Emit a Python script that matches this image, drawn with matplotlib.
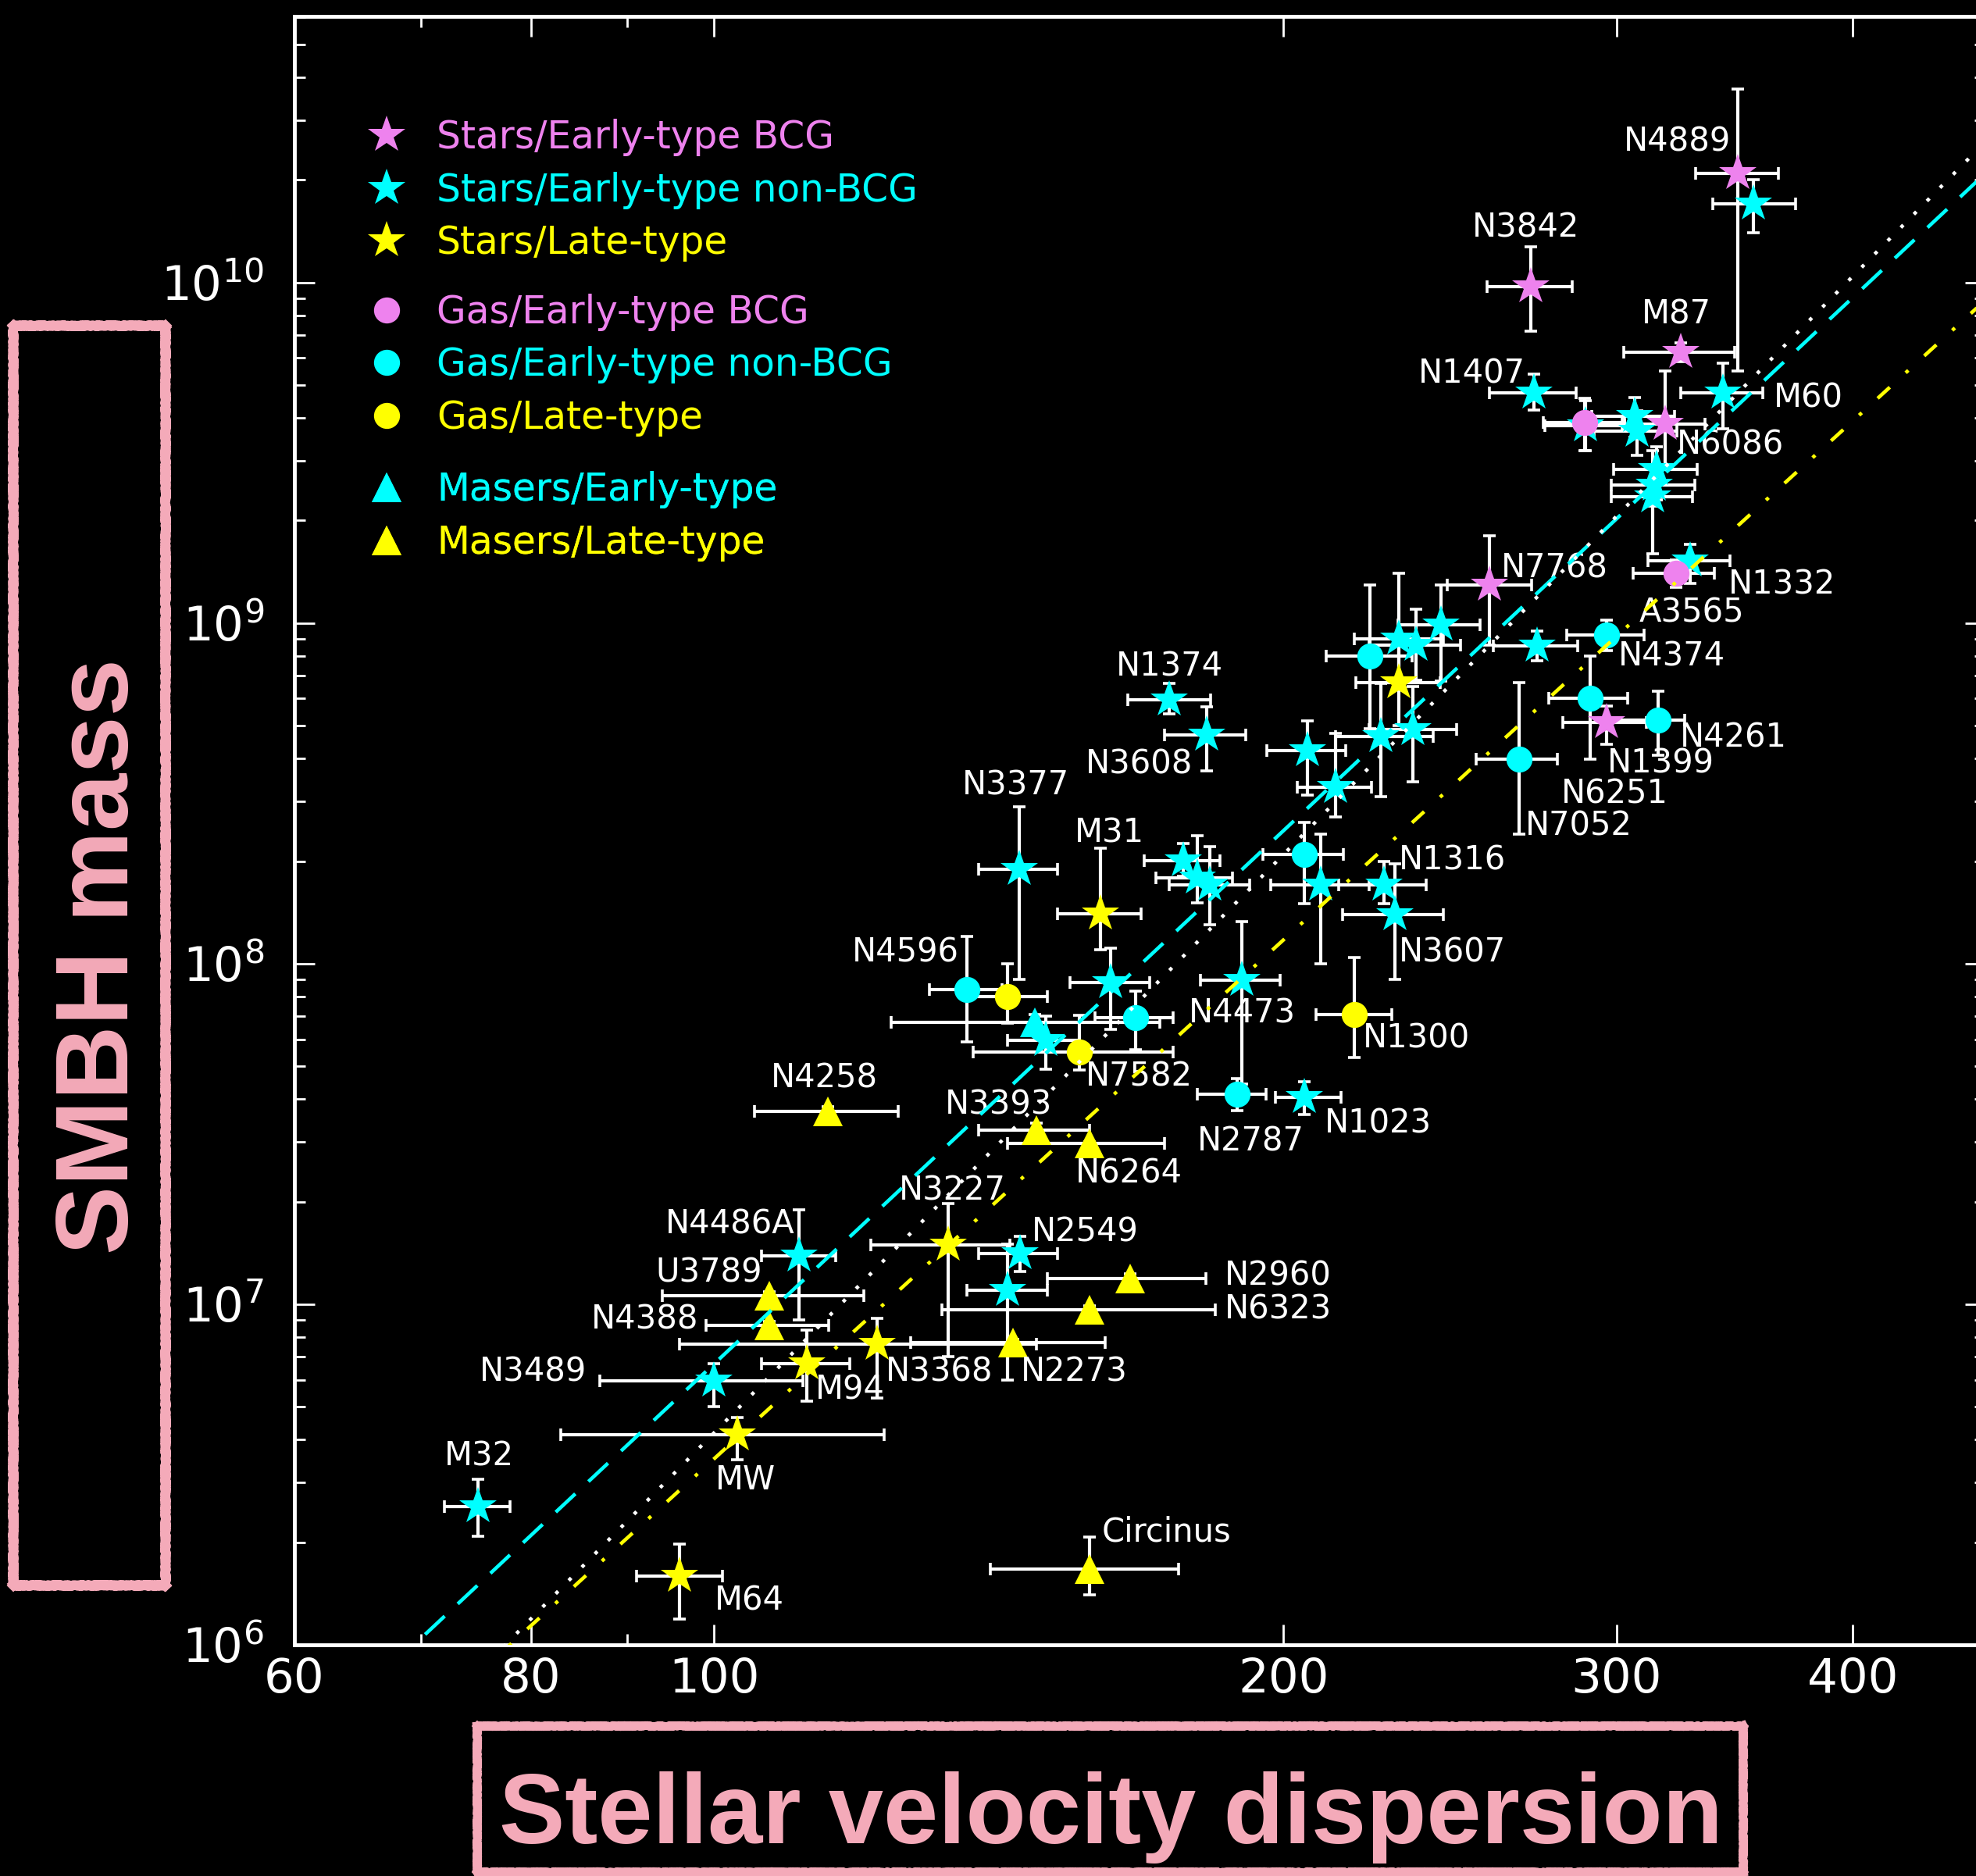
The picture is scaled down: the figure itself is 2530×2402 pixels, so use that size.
import numpy as np
import matplotlib
matplotlib.use("Agg")
import matplotlib.pyplot as plt
from matplotlib.lines import Line2D
from matplotlib.ticker import (FixedLocator, FixedFormatter, NullFormatter,
                               LogLocator, LogFormatterMathtext)

# ---------------- data (sigma in km/s, mass in Msun) ----------------
# Stars / Early-type BCG
seb_sig = [347.6, 270.3, 324.4, 318.2, 256.9, 296.4]
seb_slo = [330.3, 256.2, 302.6, 302.0, 244.2, 281.0]
seb_shi = [365.2, 284.2, 346.4, 334.0, 270.6, 311.0]
seb_m   = [2.09e10, 9.7e9, 6.25e9, 3.83e9, 1.29e9, 5.1e8]
seb_mlo = [5.5e9, 7.2e9, 5.85e9, 2.9e9, 8.6e8, 4.4e8]
seb_mhi = [3.7e10, 1.27e10, 6.65e9, 5.5e9, 1.8e9, 5.7e8]

# Stars / Early-type non-BCG
sen_sig = [354.5, 271.2, 341.5, 288.9, 306.6, 307.5, 315.1, 314.2, 313.5, 328.0,
           272.3, 230.2, 242.2, 234.9, 225.1, 234.2, 206.0, 213.0, 174.1, 182.2,
           145.0, 177.1, 180.0, 182.8, 209.3, 226.1, 229.1, 190.1, 162.0, 149.8,
           205.1, 145.1, 143.0, 110.9, 100.0, 75.0]
sen_slo = [337.3, 257.1, 324.5, 275.0, 291.0, 292.0, 299.0, 298.0, 298.0, 311.6,
           258.3, 218.0, 230.0, 222.0, 213.0, 222.0, 196.0, 203.3, 165.4, 173.0,
           138.0, 168.8, 171.2, 174.1, 197.0, 214.0, 215.0, 180.8, 154.3, 143.0,
           198.0, 138.0, 136.0, 105.9, 87.0, 72.0]
sen_shi = [372.9, 285.5, 358.5, 303.0, 322.0, 323.0, 331.0, 330.0, 329.0, 344.5,
           286.1, 243.0, 254.1, 248.0, 240.0, 247.0, 215.8, 222.7, 183.1, 191.1,
           151.9, 185.1, 187.9, 192.0, 222.0, 238.0, 243.0, 199.1, 170.0, 156.0,
           214.6, 151.9, 150.0, 116.0, 111.4, 78.0]
sen_m   = [1.70e10, 4.74e9, 4.74e9, 3.79e9, 4.04e9, 3.65e9, 2.82e9, 2.54e9, 2.35e9, 1.52e9,
           8.56e8, 8.98e8, 9.86e8, 8.62e8, 4.64e8, 4.88e8, 4.22e8, 3.29e8, 5.95e8, 4.69e8,
           1.89e8, 2.01e8, 1.79e8, 1.70e8, 1.70e8, 1.70e8, 1.39e8, 8.95e7, 8.80e7, 5.97e7,
           4.05e7, 1.41e7, 1.10e7, 1.39e7, 5.95e6, 2.55e6]
sen_mlo = [1.40e10, 4.21e9, 3.72e9, 3.2e9, 3.5e9, 3.1e9, 2.3e9, 2.2e9, 1.6e9, 1.31e9,
           7.73e8, 6.5e8, 6.76e8, 6.8e8, 3.1e8, 3.42e8, 3.13e8, 2.70e8, 5.41e8, 3.68e8,
           9.0e7, 1.8e8, 1.51e8, 1.30e8, 1.0e8, 1.5e8, 9.0e7, 4.44e7, 6.4e7, 4.9e7,
           3.6e7, 1.25e7, 6.0e6, 9.0e6, 5.0e6, 2.08e6]
sen_mhi = [2.0e10, 5.39e9, 5.79e9, 4.5e9, 4.6e9, 4.2e9, 3.3e9, 2.9e9, 3.2e9, 1.70e9,
           9.46e8, 1.40e9, 1.29e9, 1.1e9, 6.66e8, 6.5e8, 5.16e8, 4.75e8, 6.65e8, 5.67e8,
           2.89e8, 2.25e8, 2.37e8, 2.2e8, 2.4e8, 2.0e8, 1.96e8, 1.33e8, 1.11e8, 7.0e7,
           4.5e7, 1.58e7, 1.5e7, 1.89e7, 6.7e6, 3.06e6]

# Stars / Late-type
sl_sig = [230.2, 160.1, 133.0, 121.9, 111.9, 102.9, 95.9]
sl_slo = [218.4, 151.9, 121.0, 95.9, 105.9, 83.0, 91.0]
sl_shi = [242.0, 168.1, 143.3, 148.1, 118.0, 123.0, 101.0]
sl_m   = [6.7e8, 1.40e8, 1.49e7, 7.62e6, 6.70e6, 4.13e6, 1.59e6]
sl_mlo = [5.0e8, 1.10e8, 7.0e6, 5.3e6, 5.2e6, 3.5e6, 1.19e6]
sl_mhi = [9.0e8, 2.18e8, 1.98e7, 9.1e6, 8.4e6, 4.65e6, 1.98e6]

# Gas / Early-type BCG
geb_sig = [288.6, 322.4]
geb_slo = [274.4, 306.2]
geb_shi = [303.0, 338.0]
geb_m   = [3.88e9, 1.40e9]
geb_mlo = [3.21e9, 1.27e9]
geb_mhi = [4.57e9, 1.53e9]

# Gas / Early-type non-BCG
gen_sig = [222.2, 296.4, 290.5, 315.5, 266.5, 205.1, 136.0, 167.0, 189.0]
gen_slo = [210.7, 282.4, 276.3, 296.4, 252.9, 195.1, 130.0, 159.0, 180.0]
gen_shi = [233.8, 310.1, 304.1, 326.0, 279.2, 215.2, 142.0, 174.8, 195.8]
gen_m   = [7.98e8, 9.23e8, 6.01e8, 5.20e8, 3.98e8, 2.09e8, 8.40e7, 6.95e7, 4.14e7]
gen_mlo = [4.9e8, 8.3e8, 3.98e8, 4.1e8, 2.40e8, 1.5e8, 5.9e7, 5.6e7, 3.7e7]
gen_mhi = [1.29e9, 1.02e9, 7.98e8, 6.3e8, 6.68e8, 2.6e8, 1.2e8, 8.3e7, 4.6e7]

# Gas / Late-type
gl_sig = [143.0, 156.0, 218.1]
gl_slo = [136.0, 137.1, 208.0]
gl_shi = [150.0, 174.8, 228.1]
gl_m   = [8.01e7, 5.50e7, 7.07e7]
gl_mlo = [6.7e7, 4.88e7, 5.3e7]
gl_mhi = [1.0e8, 7.05e7, 1.04e8]

# Masers / Early-type
me_sig = [147.8]
me_slo = [124.0]
me_shi = [172.0]
me_m   = [6.71e7]
me_mlo = [6.3e7]
me_mhi = [7.1e7]

# Masers / Late-type
ml_sig = [114.9, 148.0, 158.0, 166.0, 158.0, 143.9, 107.0, 107.0, 158.0]
ml_slo = [105.0, 138.0, 143.0, 150.0, 132.0, 127.0, 93.9, 99.0, 140.0]
ml_shi = [125.1, 157.9, 173.0, 182.0, 184.0, 161.0, 120.0, 115.0, 176.0]
ml_m   = [3.69e7, 3.25e7, 2.96e7, 1.19e7, 9.65e6, 7.71e6, 1.06e7, 8.68e6, 1.67e6]
ml_mlo = [3.6e7, 3.1e7, 2.9e7, 1.15e7, 9.4e6, 7.5e6, 1.03e7, 8.5e6, 1.40e6]
ml_mhi = [3.8e7, 3.4e7, 3.0e7, 1.23e7, 9.9e6, 7.9e6, 1.09e7, 8.9e6, 2.07e6]

# Galaxy name labels (position of the text centre)
lab_names = ["N4889", "N3842", "M87", "N1407", "M60", "N6086", "N7768", "N1332",
             "A3565", "N4374", "N4261", "N1399", "N6251", "N7052", "N1316", "N3607",
             "N1300", "N1023", "N2787", "N4473", "N7582", "N6264", "N3393", "N4258",
             "N1374", "N3608", "N3377", "M31", "N4596", "N3227", "N2549", "N2960",
             "N6323", "N2273", "N3368", "M94", "N4486A", "U3789", "N4388", "N3489",
             "M32", "MW", "M64", "Circinus"]
lab_sig = [322.9, 268.5, 322.8, 251.4, 379.0, 344.5, 278.1, 366.9,
           328.8, 320.7, 345.9, 316.6, 299.2, 286.4, 245.7, 245.7,
           235.1, 224.4, 192.2, 190.2, 167.8, 165.7, 141.4, 114.4,
           174.1, 167.8, 144.4, 161.8, 126.3, 133.7, 157.1, 198.7,
           198.7, 155.0, 131.6, 118.0, 102.0, 99.4, 91.9, 80.2,
           75.1, 103.9, 104.4, 173.5]
lab_m = [2.59e10, 1.45e10, 8.06e9, 5.40e9, 4.58e9, 3.33e9, 1.45e9, 1.30e9,
         1.07e9, 7.99e8, 4.60e8, 3.86e8, 3.15e8, 2.54e8, 2.01e8, 1.08e8,
         6.04e7, 3.39e7, 3.01e7, 7.14e7, 4.67e7, 2.42e7, 3.85e7, 4.60e7,
         7.45e8, 3.85e8, 3.34e8, 2.42e8, 1.08e8, 2.15e7, 1.63e7, 1.21e7,
         9.66e6, 6.34e6, 6.34e6, 5.61e6, 1.72e7, 1.24e7, 9.01e6, 6.33e6,
         3.57e6, 3.05e6, 1.35e6, 2.14e6]

# Fit lines: end points read at the plot edges
fit_sig = [60, 470]
fit_all = [2.35e5, 2.59e10]
fit_early = [4.69e5, 2.09e10]
fit_late = [2.65e5, 8.87e9]

xticks = [60, 80, 100, 200, 300, 400]
xminor = [70, 90]

legend_groups = [
    [("*", "violet", "Stars/Early-type BCG"),
     ("*", "cyan", "Stars/Early-type non-BCG"),
     ("*", "yellow", "Stars/Late-type")],
    [("o", "violet", "Gas/Early-type BCG"),
     ("o", "cyan", "Gas/Early-type non-BCG"),
     ("o", "yellow", "Gas/Late-type")],
    [("^", "cyan", "Masers/Early-type"),
     ("^", "yellow", "Masers/Late-type")],
]

PINK = "#F4AAB9"
W, H = 2530, 2402

fig = plt.figure(figsize=(W / 100, H / 100), dpi=100, facecolor="black")
ax = fig.add_axes([377 / W, 296 / H, 2165 / W, 2085 / H])
ax.set_facecolor("black")
ax.set_xscale("log")
ax.set_yscale("log")
ax.set_xlim(60, 470)
ax.set_ylim(1e6, 6.04e10)

MS = {"*": 36, "o": 24, "^": 28}


def draw(sig, slo, shi, m, mlo, mhi, marker, color):
    sig = np.asarray(sig, float)
    m = np.asarray(m, float)
    xerr = [sig - np.asarray(slo), np.asarray(shi) - sig]
    yerr = [m - np.asarray(mlo), np.asarray(mhi) - m]
    ax.errorbar(sig, m, xerr=xerr, yerr=yerr, fmt="none", ecolor="white",
                elinewidth=3.0, capsize=6, capthick=2.6, zorder=2)
    ax.plot(sig, m, linestyle="none", marker=marker, color=color,
            ms=MS[marker], mew=0, zorder=3)


draw(sen_sig, sen_slo, sen_shi, sen_m, sen_mlo, sen_mhi, "*", "cyan")
draw(gen_sig, gen_slo, gen_shi, gen_m, gen_mlo, gen_mhi, "o", "cyan")
draw(me_sig, me_slo, me_shi, me_m, me_mlo, me_mhi, "^", "cyan")
draw(sl_sig, sl_slo, sl_shi, sl_m, sl_mlo, sl_mhi, "*", "yellow")
draw(gl_sig, gl_slo, gl_shi, gl_m, gl_mlo, gl_mhi, "o", "yellow")
draw(ml_sig, ml_slo, ml_shi, ml_m, ml_mlo, ml_mhi, "^", "yellow")
draw(seb_sig, seb_slo, seb_shi, seb_m, seb_mlo, seb_mhi, "*", "violet")
draw(geb_sig, geb_slo, geb_shi, geb_m, geb_mlo, geb_mhi, "o", "violet")

for name, xs, ys in zip(lab_names, lab_sig, lab_m):
    ax.text(xs, ys, name, color="white", fontsize=30, ha="center", va="center",
            zorder=4)

# fit lines drawn on top
l1, = ax.plot(fit_sig, fit_early, color="cyan", lw=3.3, zorder=5)
l1.set_dashes((7.5, 5))
l2, = ax.plot(fit_sig, fit_all, color="white", lw=3.3, zorder=5)
l2.set_dashes((1, 4.2))
l3, = ax.plot(fit_sig, fit_late, color="yellow", lw=3.3, zorder=5)
l3.set_dashes((4.6, 6, 1, 6))

# ticks and spines
ax.xaxis.set_major_locator(FixedLocator(xticks))
ax.xaxis.set_major_formatter(FixedFormatter([str(t) for t in xticks]))
ax.xaxis.set_minor_locator(FixedLocator(xminor))
ax.xaxis.set_minor_formatter(NullFormatter())
ax.yaxis.set_major_locator(LogLocator(base=10, numticks=20))
ax.yaxis.set_major_formatter(LogFormatterMathtext())
ax.yaxis.set_minor_locator(LogLocator(base=10, subs=np.arange(2, 10), numticks=20))
ax.yaxis.set_minor_formatter(NullFormatter())
ax.tick_params(which="both", direction="in", top=True, right=True,
               colors="white", width=2)
ax.tick_params(which="major", length=19, labelsize=44)
ax.tick_params(which="minor", length=10)
ax.tick_params(axis="x", pad=11)
ax.tick_params(axis="y", pad=28)
for sp in ax.spines.values():
    sp.set_color("white")
    sp.set_linewidth(3.5)

# legends (three groups)
anchors = [(0.0432, 0.937), (0.0432, 0.8298), (0.0432, 0.7207)]
for grp, anc in zip(legend_groups, anchors):
    hs = [Line2D([], [], marker=mk, color=c, ls="none", ms=MS[mk], mew=0) for mk, c, _ in grp]
    leg = ax.legend(hs, [t for _, _, t in grp], loc="upper left", bbox_to_anchor=anc,
                    frameon=False, fontsize=35, labelcolor=[c for _, c, _ in grp],
                    handlelength=1.0, handletextpad=0.82, labelspacing=0.40,
                    borderpad=0, borderaxespad=0, numpoints=1)
    ax.add_artist(leg)

# axis-label boxes (chalk-like frames)
fig.text(130 / W, 1 - 1225 / H, "SMBH mass", rotation=90, color=PINK,
         fontsize=95, fontweight="bold", family="Liberation Sans",
         ha="center", va="center")
fig.text(1422 / W, 1 - 2360 / H, "Stellar velocity dispersion", color=PINK,
         fontsize=91, fontweight="bold", family="Liberation Sans",
         ha="center", va="baseline")


def chalk_box(x0, y0, x1, y1, lw):
    xs = [x0, x1, x1, x0, x0]
    ys = [y0, y0, y1, y1, y0]
    for i in range(4):
        ln = Line2D([xs[i] / W, xs[i + 1] / W], [1 - ys[i] / H, 1 - ys[i + 1] / H],
                    transform=fig.transFigure, color=PINK, lw=lw,
                    solid_capstyle="projecting")
        ln.set_sketch_params(scale=1.0, length=1.5, randomness=3)
        fig.lines.append(ln)


chalk_box(16.5, 416.5, 211.5, 2030, 8.6)
chalk_box(611, 2210, 2232, 2397, 7.5)

fig.savefig("out.png", dpi=100, facecolor="black")
